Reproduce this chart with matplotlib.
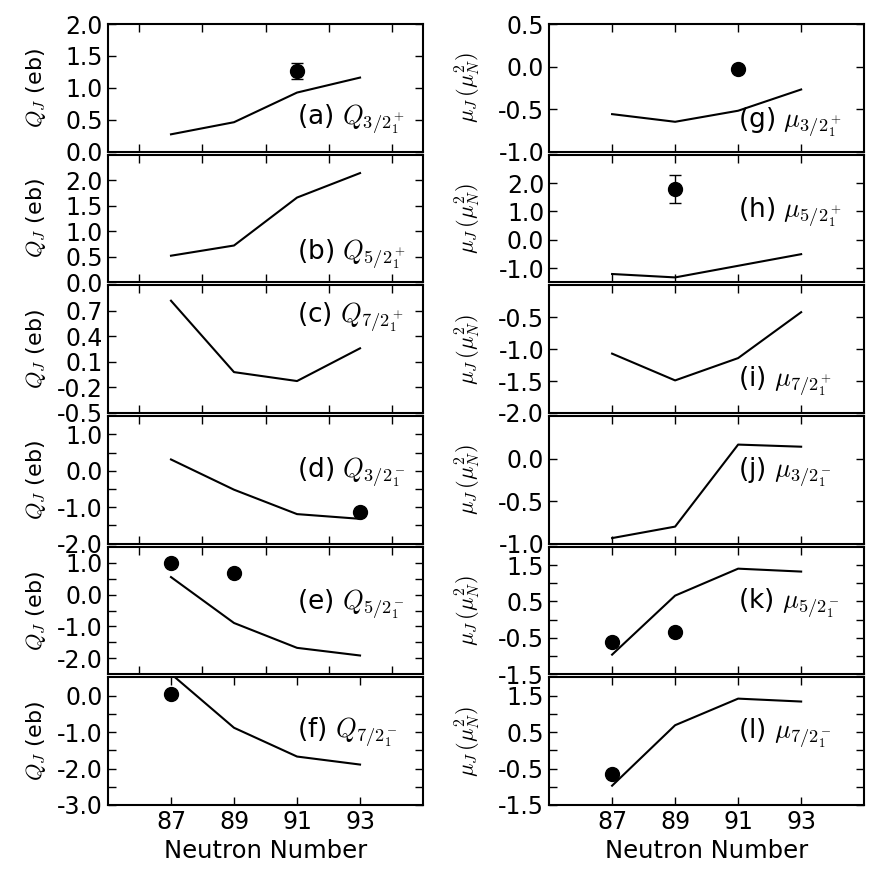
# Momentos de quadrupolo e dipolo magnetico vs numero de neutrons

import numpy as np
import matplotlib.pyplot as plt

plt.rcParams['mathtext.fontset'] = 'cm'
plt.rcParams['font.family'] = 'DejaVu Sans'
plt.rcParams['axes.unicode_minus'] = False

neutron = [87, 89, 91, 93]

# calculo (Q em eb)
Q_32p = [0.27, 0.46, 0.925, 1.16]
Q_52p = [0.52, 0.72, 1.66, 2.14]
Q_72p = [0.82, -0.02, -0.125, 0.26]
Q_32m = [0.31, -0.52, -1.19, -1.32]
Q_52m = [0.55, -0.89, -1.67, -1.91]
Q_72m = [0.6, -0.88, -1.67, -1.89]

# calculo (mu em mu_N^2)
mu_32p = [-0.56, -0.65, -0.52, -0.27]
mu_52p = [-1.21, -1.33, -0.92, -0.51]
mu_72p = [-1.07, -1.49, -1.14, -0.42]
mu_32m = [-0.935, -0.80, 0.165, 0.14]
mu_52m = [-0.96, 0.66, 1.40, 1.32]
mu_72m = [-0.97, 0.69, 1.42, 1.34]

# experimental: (N, valor, erro)
Q_32p_exp = ([91], [1.26], [0.13])
Q_32m_exp = ([93], [-1.12], [0.0])
Q_52m_exp = ([87, 89], [0.99, 0.69], [0.0, 0.0])
Q_72m_exp = ([87], [0.06], [0.0])
mu_32p_exp = ([91], [-0.03], [0.0])
mu_52p_exp = ([89], [1.78], [0.5])
mu_52m_exp = ([87, 89], [-0.60, -0.35], [0.0, 0.0])
mu_72m_exp = ([87], [-0.64], [0.0])

Q_label = r'$Q_J$ (eb)'
mu_label = r'$\mu_J\,(\mu_N^2)$'

esquerda = [
    (Q_32p, Q_32p_exp, r'(a) $Q_{3/2_1^+}$', 0.25, (0, 2), [0, 0.5, 1, 1.5, 2], []),
    (Q_52p, None, r'(b) $Q_{5/2_1^+}$', 0.22, (0, 2.5), [0, 0.5, 1, 1.5, 2], []),
    (Q_72p, None, r'(c) $Q_{7/2_1^+}$', 0.75, (-0.5, 1.0), [-0.5, -0.2, 0.1, 0.4, 0.7], []),
    (Q_32m, Q_32m_exp, r'(d) $Q_{3/2_1^-}$', 0.56, (-2, 1.5), [-2, -1, 0, 1], [-1.5, -0.5, 0.5]),
    (Q_52m, Q_52m_exp, r'(e) $Q_{5/2_1^-}$', 0.55, (-2.5, 1.5), [-2, -1, 0, 1], [-1.5, -0.5, 0.5]),
    (Q_72m, Q_72m_exp, r'(f) $Q_{7/2_1^-}$', 0.57, (-3, 0.5), [-3, -2, -1, 0], [-2.5, -1.5, -0.5]),
]

direita = [
    (mu_32p, mu_32p_exp, r'(g) $\mu_{3/2_1^+}$', 0.23, (-1, 0.5), [-1, -0.5, 0, 0.5], []),
    (mu_52p, mu_52p_exp, r'(h) $\mu_{5/2_1^+}$', 0.55, (-1.5, 3), [-1, 0, 1, 2], []),
    (mu_72p, None, r'(i) $\mu_{7/2_1^+}$', 0.25, (-2, 0), [-2, -1.5, -1, -0.5], []),
    (mu_32m, None, r'(j) $\mu_{3/2_1^-}$', 0.56, (-1, 0.5), [-1, -0.5, 0], []),
    (mu_52m, mu_52m_exp, r'(k) $\mu_{5/2_1^-}$', 0.56, (-1.5, 2), [-1.5, -0.5, 0.5, 1.5], [-1, 0, 1]),
    (mu_72m, mu_72m_exp, r'(l) $\mu_{7/2_1^-}$', 0.56, (-1.5, 2), [-1.5, -0.5, 0.5, 1.5], [-1, 0, 1]),
]

fig, axes = plt.subplots(6, 2, figsize=(8.8, 8.77), dpi=100)
fig.subplots_adjust(left=0.1227, right=0.982, top=0.9726, bottom=0.0821,
                    hspace=0.025, wspace=0.4)

colunas = [(esquerda, Q_label, -0.19), (direita, mu_label, -0.21)]

for col, (paineis, ylabel, xlab) in enumerate(colunas):
    for row, (calc, exp, texto, ytexto, ylim, yt, yt_min) in enumerate(paineis):
        ax = axes[row, col]
        ax.plot(neutron, calc, color='black', lw=1.5)
        if exp is not None:
            x_e, y_e, err = exp
            if max(err) > 0:
                ax.errorbar(x_e, y_e, yerr=err, fmt='o', color='black', ms=10,
                            elinewidth=1, capsize=4, capthick=1)
            else:
                ax.plot(x_e, y_e, 'o', color='black', ms=10)
        ax.set_xlim(85, 95)
        ax.set_ylim(*ylim)
        ax.set_yticks(yt)
        ax.set_yticks(yt_min, minor=True)
        ax.set_yticklabels(['%.1f' % v for v in yt])
        if col == 0 and row < 5:
            ax.set_xticks([86, 88, 90, 92, 94])
        else:
            ax.set_xticks(neutron)
        if row < 5:
            ax.set_xticklabels([])
        else:
            ax.set_xlabel('Neutron Number', fontsize=17.5)
        ax.tick_params(which='both', direction='in', length=6, width=1,
                       top=True, right=True, labelsize=17)
        for s in ax.spines.values():
            s.set_linewidth(1.5)
        ax.set_ylabel(ylabel, fontsize=16)
        ax.yaxis.set_label_coords(xlab, 0.5)
        ax.text(0.6, ytexto, texto, transform=ax.transAxes, fontsize=19, va='center')

plt.savefig('out.png')
